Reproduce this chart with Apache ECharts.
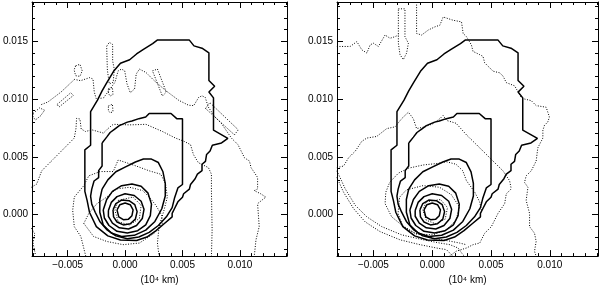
<!DOCTYPE html>
<html><head><meta charset="utf-8">
<script src="https://cdn.jsdelivr.net/npm/echarts@6/dist/echarts.min.js"></script>
<style>html,body{margin:0;padding:0;background:#fff}#c{width:600px;height:290px}</style>
</head><body><div id="c"></div>
<script>
// ---- axis ranges and tick values ----
const xRange = [-0.0081, 0.0141];
const yRange = [-0.0036, 0.0184];
const xMajor = [-0.005, 0, 0.005, 0.010];
const xMinor = [-0.008,-0.007,-0.006,-0.005,-0.004,-0.003,-0.002,-0.001,0,0.001,0.002,0.003,0.004,0.005,0.006,0.007,0.008,0.009,0.010,0.011,0.012,0.013,0.014];
const yMajor = [0, 0.005, 0.010, 0.015];
const yMinor = [-0.003,-0.002,-0.001,0,0.001,0.002,0.003,0.004,0.005,0.006,0.007,0.008,0.009,0.010,0.011,0.012,0.013,0.014,0.015,0.016,0.017,0.018];
const xAxisTitle = '(10\u2074 km)';

// ---- solid contours (same in both panels) ----
const solidLevel1 = [[-0.0007,0.0004],[-0.00045,0.00085],[0,0.001],[0.00045,0.00085],[0.0007,0.0004],[0.0006,-0.0001],[0.0003,-0.0004],[-0.00015,-0.00045],[-0.00055,-0.0002],[-0.0007,0.0004]];
const solidLevel2 = [[-0.00105,0.0004],[-0.0008,0.00095],[-0.0003,0.00125],[0.00035,0.0012],[0.00085,0.00085],[0.00105,0.00025],[0.0009,-0.0004],[0.00045,-0.0008],[-0.00015,-0.0009],[-0.0007,-0.00065],[-0.001,-0.0002],[-0.00105,0.0004]];
const solidLevel3 = [[-0.00145,0.00035],[-0.0012,0.00105],[-0.0007,0.00155],[0,0.0018],[0.0008,0.00165],[0.0014,0.00115],[0.00165,0.00045],[0.0015,-0.00035],[0.001,-0.00095],[0.0003,-0.00125],[-0.0005,-0.00115],[-0.0011,-0.00075],[-0.00145,-0.00015],[-0.00145,0.00035]];
const solidLevel4 = [[-0.0019,0.0004],[-0.0016,0.0013],[-0.0011,0.002],[-0.0003,0.0025],[0.0006,0.00265],[0.0014,0.00245],[0.002,0.00185],[0.0023,0.0009],[0.0022,-0.0001],[0.0018,-0.0009],[0.0011,-0.0014],[0.0002,-0.0016],[-0.0007,-0.00145],[-0.0014,-0.00095],[-0.0018,-0.0003],[-0.0019,0.0004]];
const solidLevel5 = [[-0.002,0.0022],[-0.0015,0.003],[-0.0008,0.0037],[0,0.0041],[0.0009,0.00455],[0.0016,0.0048],[0.0023,0.0048],[0.0029,0.0045],[0.0033,0.0037],[0.0035,0.0027],[0.0035,0.0016],[0.0032,0.0005],[0.0026,-0.0006],[0.0018,-0.00135],[0.0008,-0.0018],[-0.0003,-0.0019],[-0.0012,-0.0016],[-0.0019,-0.0009],[-0.0022,0.0002],[-0.0022,0.0013],[-0.002,0.0022]];
const solidLevel6 = [[-0.002,0.0062],[-0.002,0.0042],[-0.0023,0.0038],[-0.0023,0.0032],[-0.0027,0.0029],[-0.0029,0.0022],[-0.003,0.0016],[-0.0029,0.0009],[-0.0026,0.0002],[-0.0022,-0.0006],[-0.0016,-0.0013],[-0.0008,-0.00185],[0.0002,-0.0021],[0.0012,-0.00195],[0.0021,-0.00155],[0.0029,-0.00095],[0.0036,-0.0002],[0.0041,0.0006],[0.0043,0.0014],[0.0046,0.0023],[0.005,0.0026],[0.005,0.0083],[0.0045,0.0083],[0.004,0.00875],[0.0021,0.00875],[0.0018,0.00845],[0.0012,0.0083],[0.0006,0.0081],[0.0002,0.008],[-0.0005,0.0077],[-0.0009,0.0074],[-0.0013,0.0071],[-0.0016,0.0067],[-0.002,0.0062]];
const solidLevel7 = [[-0.0035,0.002],[-0.0035,0.0056],[-0.003,0.006],[-0.003,0.0089],[-0.0024,0.0099],[-0.002,0.0107],[-0.0016,0.0114],[-0.001,0.0124],[-0.0004,0.0131],[0.0004,0.0134],[0.001,0.0139],[0.0016,0.0143],[0.0024,0.0148],[0.0028,0.0151],[0.0056,0.0151],[0.006,0.0146],[0.0067,0.0144],[0.0073,0.014],[0.0073,0.0116],[0.0078,0.0111],[0.0073,0.0106],[0.0077,0.0101],[0.0077,0.0073],[0.00895,0.0066],[0.0084,0.0062],[0.0076,0.006],[0.0074,0.0055],[0.0071,0.0052],[0.007,0.0046],[0.0067,0.00435],[0.0067,0.0038],[0.0063,0.0035],[0.0061,0.0031],[0.0057,0.0026],[0.0056,0.0022],[0.0051,0.0018],[0.005,0.0015],[0.0046,0.0011],[0.0043,0.0005],[0.0041,0.0001],[0.0041,-0.0002],[0.0034,-0.0008],[0.0027,-0.0014],[0.0019,-0.00195],[0.001,-0.00225],[-0.0004,-0.0022],[-0.0015,-0.00185],[-0.0025,-0.00105],[-0.0031,0.0002],[-0.0033,0.0012],[-0.0035,0.002]];

// ---- dotted contours, left panel ----
const leftOuterArch = [[-0.00729,0.00952],[-0.00672,0.00974],[-0.00558,0.0106],[-0.00473,0.01139],[-0.00442,0.0117],[-0.00387,0.01159],[-0.00308,0.01185],[-0.00279,0.01173],[-0.00268,0.0106],[-0.00251,0.01003],[-0.00188,0.01009],[-0.00088,0.01145],[-0.0006,0.01244],[-0.00031,0.01259],[-0.00003,0.01244],[0.00017,0.01131],[0.00046,0.01054],[0.00083,0.01088],[0.00097,0.01216],[0.00125,0.01259],[0.00182,0.0123],[0.00254,0.01159],[0.00353,0.01074],[0.00467,0.00989],[0.00553,0.00946],[0.00598,0.00943],[0.00641,0.01014],[0.0067,0.01028],[0.00698,0.01014],[0.00724,0.00932],[0.00781,0.00847],[0.00838,0.0079],[0.00926,0.00662],[0.00983,0.00605],[0.0104,0.00491],[0.01083,0.00463],[0.01097,0.00406],[0.01154,0.00321],[0.01154,0.00222],[0.01125,0.00207],[0.01182,0.00179],[0.01225,0.00151],[0.01154,0.00094],[0.01168,-0.00105],[0.0114,-0.00219],[0.01125,-0.00361]];
const leftInnerArch = [[-0.00815,0.00236],[-0.00769,0.00264],[-0.00726,0.00378],[-0.00641,0.00463],[-0.00527,0.00577],[-0.00442,0.00662],[-0.00427,0.00747],[-0.00422,0.00832],[-0.00393,0.00827],[-0.00382,0.00741],[-0.00345,0.00719],[-0.00288,0.00733],[-0.00188,0.00705],[-0.00145,0.00747],[-0.00103,0.00781],[0.0004,0.00776],[0.00182,0.00781],[0.00325,0.00719],[0.00439,0.00662],[0.00513,0.00634],[0.0057,0.00605],[0.00595,0.0052],[0.00638,0.00449],[0.00726,0.00406],[0.00752,0.00349],[0.00752,0.00207],[0.00758,-0.00134],[0.00752,-0.00361]];
const leftCore = [[-0.00342,-0.00361],[-0.00385,-0.0019],[-0.00442,-0.00105],[-0.00456,0.00037],[-0.00442,0.00151],[-0.00359,0.0025],[-0.00316,0.00335],[-0.00217,0.00372],[-0.00103,0.00372],[-0.0006,0.00472],[0.00011,0.00449],[0.00097,0.0042],[0.00211,0.00378],[0.00311,0.00349],[0.00353,0.00264],[0.00368,0.00151],[0.00339,0.00037],[0.00296,-0.00105],[0.00282,-0.00247],[0.00296,-0.00361]];
const leftRing = [[-0.00359,-0.00077],[-0.00274,-0.0019],[-0.0016,-0.00233],[-0.00017,-0.00261],[0.00125,-0.00247],[0.00254,-0.00162],[0.00325,-0.00077],[0.00319,-0.00006],[0.00268,0.0008],[0.00211,0.00151],[0.00154,0.00207],[0.0004,0.00236],[-0.00074,0.00222],[-0.0016,0.00151],[-0.00245,0.00094],[-0.00316,0.00009],[-0.00359,-0.00077]];
const leftSmall = [[-0.0006,0.00122],[0.00068,0.00151],[0.0014,0.0008],[0.00125,-0.00034],[0.0004,-0.00091],[-0.0006,-0.00063],[-0.00088,0.00037],[-0.0006,0.00122]];
const leftFinger = [[-0.0016,0.01457],[-0.00137,0.01491],[-0.00108,0.01472],[-0.00108,0.0133],[-0.00094,0.01259],[-0.00103,0.01145],[-0.00137,0.01131],[-0.00154,0.0125],[-0.0016,0.01457]];
const leftLoop1 = [[-0.00145,0.0109],[-0.0011,0.011],[-0.00105,0.0104],[-0.0013,0.01025],[-0.00145,0.0105],[-0.00145,0.0109]];
const leftLoop2 = [[-0.00145,0.0094],[-0.0011,0.00955],[-0.00105,0.0089],[-0.0013,0.0088],[-0.00145,0.009],[-0.00145,0.0094]];
const leftLoop3 = [[-0.0043,0.01287],[-0.00393,0.01301],[-0.00373,0.01244],[-0.00393,0.01196],[-0.0043,0.01202],[-0.00444,0.01253],[-0.0043,0.01287]];
const leftLoop4 = [[-0.00593,0.00952],[-0.00473,0.01054],[-0.0045,0.01031],[-0.00573,0.00932],[-0.00593,0.00952]];
const leftLoop5 = [[-0.00801,0.00875],[-0.00744,0.00923],[-0.00701,0.00903],[-0.00735,0.00855],[-0.00781,0.00818],[-0.00801,0.00847],[-0.00801,0.00875]];
const leftLoop6 = [[0.00239,0.01244],[0.00282,0.01259],[0.00359,0.0106],[0.00325,0.01026],[0.00239,0.01244]];
const leftLoop7 = [[0.00701,0.00918],[0.00738,0.00969],[0.00986,0.00733],[0.00952,0.0069],[0.00701,0.00918]];
const leftEdge = [[-0.00815,-0.00119],[-0.00786,-0.00168],[-0.00801,-0.00247],[-0.00781,-0.00347]];

// ---- dotted contours, right panel ----
const rightWavy = [[-0.00811,0.01455],[-0.00698,0.01455],[-0.00641,0.01497],[-0.00599,0.01426],[-0.00556,0.01398],[-0.00528,0.01469],[-0.005,0.01483],[-0.00458,0.01455],[-0.00401,0.01554],[-0.00359,0.01526],[-0.00316,0.0154],[-0.00288,0.01554]];
const rightFinger = [[-0.00288,0.01781],[-0.00232,0.01781],[-0.00232,0.0154],[-0.00203,0.01483],[-0.00218,0.01398],[-0.00246,0.01341],[-0.00274,0.01384],[-0.00288,0.01483],[-0.00288,0.01781]];
const rightLong = [[-0.00133,0.0184],[-0.00133,0.01568],[-0.0009,0.01554],[-0.00034,0.01597],[0.00023,0.01625],[0.00065,0.01639],[0.00093,0.0171],[0.00136,0.01696],[0.00178,0.01682],[0.00249,0.01668],[0.00263,0.01568],[0.00291,0.0154],[0.00333,0.01469],[0.00347,0.01412],[0.00404,0.01384],[0.00432,0.01369],[0.00446,0.01313],[0.00489,0.0127],[0.00517,0.01241],[0.00573,0.01227],[0.00602,0.01199],[0.0063,0.01142],[0.00701,0.01114],[0.00757,0.01014],[0.00785,0.01],[0.00842,0.00986],[0.00884,0.00943],[0.00969,0.00929],[0.00983,0.00886],[0.00997,0.00844],[0.00983,0.00801],[0.00955,0.00773],[0.00941,0.0073],[0.00941,0.00662],[0.00898,0.00577],[0.00884,0.00463],[0.00842,0.00378],[0.00799,0.00335],[0.00785,0.00278],[0.00814,0.00236],[0.00799,0.00122],[0.00828,0.00009],[0.00828,-0.00105],[0.0087,-0.00162],[0.00884,-0.00233],[0.0087,-0.00318],[0.00884,-0.00361]];
const rightDiag = [[-0.00811,0.00406],[-0.00754,0.0042],[-0.00712,0.00491],[-0.00655,0.00548],[-0.00599,0.00634],[-0.00556,0.00662],[-0.00472,0.00676],[-0.00387,0.00744],[-0.00316,0.00759],[-0.0026,0.0083],[-0.00203,0.00886],[-0.00161,0.0083],[-0.00133,0.00744],[-0.00062,0.00759],[0.00008,0.00787],[0.00065,0.0083],[0.00093,0.00858],[0.00121,0.00815],[0.00203,0.0079],[0.00291,0.0069],[0.00404,0.00577],[0.00517,0.00463],[0.00602,0.00378],[0.00658,0.00293],[0.00672,0.00222],[0.0063,0.00179],[0.00616,0.00094],[0.00559,0.00009],[0.00503,-0.00105],[0.00446,-0.00162],[0.00404,-0.00247],[0.00347,-0.00261],[0.00291,-0.0029],[0.00203,-0.00318],[0.00147,-0.00361]];
const rightArc1 = [[-0.00811,0.00378],[-0.00797,0.00349],[-0.0074,0.00222],[-0.00655,0.0008],[-0.00556,-0.0002],[-0.00429,-0.00105],[-0.0026,-0.00176],[-0.00076,-0.00219],[0.00065,-0.00247],[0.0015,-0.00261],[0.0022,-0.0029],[0.0026,-0.00347],[0.00274,-0.00361]];
const rightArc2 = [[-0.00811,0.00321],[-0.00754,0.00193],[-0.00669,0.00051],[-0.00571,-0.00063],[-0.00444,-0.00148],[-0.00274,-0.00219],[-0.00105,-0.00261],[0.00037,-0.0029],[0.00121,-0.00304],[0.00175,-0.00361]];
const rightCore = [[0.00418,0.00037],[0.00404,0.00108],[0.00362,0.00193],[0.00291,0.00293],[0.0026,0.00378],[0.00203,0.00435],[0.00121,0.00457],[0.00051,0.00443],[-0.00076,0.00429],[-0.00203,0.00401],[-0.00288,0.00358],[-0.00362,0.00278],[-0.00395,0.00193],[-0.00401,0.00094],[-0.00345,-0.0002],[-0.0026,-0.00091],[-0.00147,-0.00162],[0.00008,-0.00205],[0.00164,-0.00233],[0.00234,-0.00247],[0.00288,-0.00261]];
const rightRing = [[-0.00277,0.00151],[-0.0022,0.00213],[-0.00079,0.0025],[0.00062,0.00236],[0.00161,0.00173],[0.00232,0.00065],[0.00203,-0.00048],[0.00119,-0.00134],[0.00006,-0.00176],[-0.00136,-0.00168],[-0.00249,-0.00105],[-0.00291,0.00009],[-0.00277,0.00151]];
const rightSmall = [[-0.0005,0.0011],[0.0007,0.0013],[0.0013,0.0006],[0.0011,-0.0004],[0.0003,-0.0008],[-0.0005,-0.0005],[-0.0008,0.0004],[-0.0005,0.0011]];

const solidContours = [solidLevel1, solidLevel2, solidLevel3, solidLevel4, solidLevel5, solidLevel6, solidLevel7];
const leftDotted = [leftOuterArch, leftInnerArch, leftCore, leftRing, leftSmall, leftFinger, leftLoop1, leftLoop2, leftLoop3, leftLoop4, leftLoop5, leftLoop6, leftLoop7, leftEdge];
const rightDotted = [rightWavy, rightFinger, rightLong, rightDiag, rightArc1, rightArc2, rightCore, rightRing, rightSmall];

// ---- build chart ----
const FONT = 'Liberation Sans, Arial, sans-serif';
const black = {color:'#000', width:1};
const fmt = v => (v < 0 ? '\u2212' : '') + Math.abs(v).toFixed(3);
const grids = [
  {left:27, top:2, width:260, height:258},
  {left:337, top:2, width:261, height:258}
];
const xAxes = [], yAxes = [];
grids.forEach((g, gi) => {
  const xb = {gridIndex:gi, type:'value', min:xRange[0], max:xRange[1], splitLine:{show:false}};
  const yb = {gridIndex:gi, type:'value', min:yRange[0], max:yRange[1], splitLine:{show:false}};
  xAxes.push(Object.assign({}, xb, {position:'bottom',
    axisLine:{show:true, onZero:false, lineStyle:black},
    axisTick:{show:true, inside:true, length:6, customValues:xMajor, lineStyle:black},
    axisLabel:{show:true, customValues:xMajor, formatter:fmt, margin:4, fontSize:10, color:'#000', fontFamily:FONT},
    name:xAxisTitle, nameLocation:'middle', nameGap:14,
    nameTextStyle:{fontSize:10, color:'#000', fontFamily:FONT}}));
  xAxes.push(Object.assign({}, xb, {position:'bottom',
    axisLine:{show:false, onZero:false},
    axisTick:{show:true, inside:true, length:3, customValues:xMinor, lineStyle:black},
    axisLabel:{show:false}}));
  xAxes.push(Object.assign({}, xb, {position:'top',
    axisLine:{show:true, onZero:false, lineStyle:black},
    axisTick:{show:true, inside:true, length:6, customValues:xMajor, lineStyle:black},
    axisLabel:{show:false}}));
  xAxes.push(Object.assign({}, xb, {position:'top',
    axisLine:{show:false, onZero:false},
    axisTick:{show:true, inside:true, length:3, customValues:xMinor, lineStyle:black},
    axisLabel:{show:false}}));
  yAxes.push(Object.assign({}, yb, {position:'left',
    axisLine:{show:true, onZero:false, lineStyle:black},
    axisTick:{show:true, inside:true, length:6, customValues:yMajor, lineStyle:black},
    axisLabel:{show:true, customValues:yMajor, formatter:fmt, margin:4, fontSize:10, color:'#000', fontFamily:FONT}}));
  yAxes.push(Object.assign({}, yb, {position:'left',
    axisLine:{show:false, onZero:false},
    axisTick:{show:true, inside:true, length:3, customValues:yMinor, lineStyle:black},
    axisLabel:{show:false}}));
  yAxes.push(Object.assign({}, yb, {position:'right',
    axisLine:{show:true, onZero:false, lineStyle:black},
    axisTick:{show:true, inside:true, length:6, customValues:yMajor, lineStyle:black},
    axisLabel:{show:false}}));
  yAxes.push(Object.assign({}, yb, {position:'right',
    axisLine:{show:false, onZero:false},
    axisTick:{show:true, inside:true, length:3, customValues:yMinor, lineStyle:black},
    axisLabel:{show:false}}));
});

const series = [];
function addSeries(list, panel, solid) {
  list.forEach(pts => {
    series.push({
      type:'line', xAxisIndex:panel*4, yAxisIndex:panel*4, data:pts,
      showSymbol:false, symbol:'none', silent:true, clip:true,
      lineStyle: solid ? {color:'#000', width:1.5, type:'solid'} : {color:'#000', width:1, type:[1,1.6]}
    });
  });
}
addSeries(leftDotted, 0, false);
addSeries(solidContours, 0, true);
addSeries(rightDotted, 1, false);
addSeries(solidContours, 1, true);

const chart = echarts.init(document.getElementById('c'), null, {renderer:'canvas'});
chart.setOption({
  animation:false,
  backgroundColor:'#fff',
  grid:grids,
  xAxis:xAxes,
  yAxis:yAxes,
  series:series
});
</script>
</body></html>
